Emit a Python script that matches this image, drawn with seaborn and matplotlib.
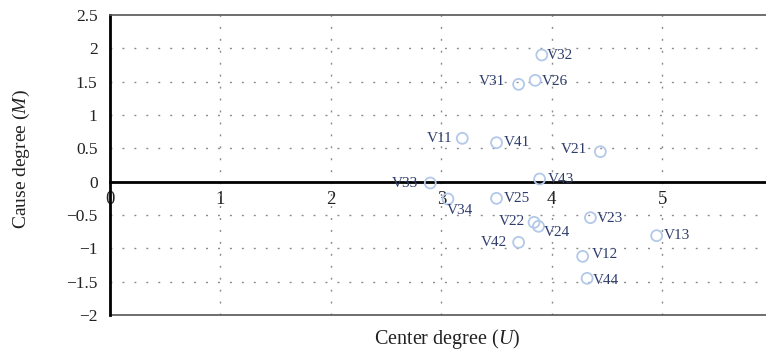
import matplotlib
matplotlib.use("Agg")
import matplotlib.pyplot as plt
import seaborn as sns
import pandas as pd

labels = ["V11", "V12", "V13", "V21", "V22", "V23", "V24", "V25", "V26",
          "V31", "V32", "V33", "V34", "V41", "V42", "V43", "V44"]
center_U = [3.19, 4.28, 4.95, 4.44, 3.84, 4.35, 3.88, 3.50, 3.85,
            3.70, 3.91, 2.90, 3.06, 3.50, 3.70, 3.89, 4.32]
cause_M = [0.65, -1.12, -0.81, 0.45, -0.61, -0.54, -0.67, -0.25, 1.52,
           1.46, 1.90, -0.02, -0.26, 0.585, -0.91, 0.04, -1.45]

x_ticks = [0, 1, 2, 3, 4, 5]
y_ticks = [-2, -1.5, -1, -0.5, 0, 0.5, 1, 1.5, 2, 2.5]

# label placement (pixel offsets, horizontal alignment)
label_layout = {
    "V32": (5, 0, "left"), "V31": (-14, 3, "right"), "V26": (7, -1, "left"),
    "V11": (-10, 0, "right"), "V41": (7, 0, "left"), "V21": (-13, 2, "right"),
    "V33": (-12, 0, "right"), "V43": (8, 0, "left"), "V34": (-1, -11, "left"),
    "V25": (7, 0, "left"), "V22": (-9, 1, "right"), "V24": (5, -6, "left"),
    "V42": (-12, 0, "right"), "V23": (6, -1, "left"), "V13": (7, 0, "left"),
    "V12": (9, 1.5, "left"), "V44": (6, -2, "left"),
}

df = pd.DataFrame({"label": labels, "U": center_U, "M": cause_M})

sns.set_theme(style="white")
plt.rcParams["font.family"] = ["Liberation Serif", "DejaVu Serif"]
plt.rcParams["mathtext.fontset"] = "custom"
plt.rcParams["mathtext.it"] = "Liberation Serif:italic"
plt.rcParams["mathtext.rm"] = "Liberation Serif"
plt.rcParams["axes.unicode_minus"] = True

fig = plt.figure(figsize=(7.66, 3.51), dpi=100)
ax = fig.add_axes([110 / 766, 1 - 315 / 351, (766 - 110) / 766, 300 / 351])

sns.scatterplot(data=df, x="U", y="M", ax=ax, s=62, marker="o",
                facecolor="none", edgecolor="#b3c9e9", linewidth=1.3, zorder=3)

for lab, u, m in zip(labels, center_U, cause_M):
    dx, dy, ha = label_layout[lab]
    ax.annotate(lab, (u, m), xytext=(dx, dy), textcoords="offset pixels",
                ha=ha, va="center", fontsize=11, color="#2f3d6c", zorder=4)

# spines first (set_position resets tick objects)
ax.spines["bottom"].set_position(("data", 0))
ax.spines["bottom"].set_color("black")
ax.spines["bottom"].set_linewidth(2)
ax.spines["left"].set_color("black")
ax.spines["left"].set_linewidth(2)
ax.spines["top"].set_color("#555555")
ax.spines["top"].set_linewidth(1.2)
ax.spines["right"].set_visible(False)
ax.plot([0, 1], [0, 0], transform=ax.transAxes, color="#555555",
        linewidth=1.2, clip_on=False, zorder=2)

ax.set_xlim(0, 5.94)
ax.set_ylim(-2, 2.5)
ax.set_xticks(x_ticks)
ax.set_yticks(y_ticks)
ax.set_xticklabels([f"{t:g}" for t in x_ticks], fontsize=13.5, color="#222222")
ax.set_yticklabels([f"{t:g}".replace("-", "\u2212") for t in y_ticks],
                   fontsize=12.5, color="#222222")
ax.tick_params(axis="x", length=0, pad=7)
ax.tick_params(axis="y", length=0, pad=9)

grid_style = dict(color="#8a8a8a", linewidth=1.0, linestyle=(0, (1.4, 7.2)), zorder=1)
for t in x_ticks[1:]:
    ax.axvline(t, **grid_style)
for t in y_ticks:
    if t not in (0, -2, 2.5):
        ax.axhline(t, **grid_style)

ax.set_xlabel("Center degree ($\\mathit{U}$)", fontsize=14.5, color="#222222")
ax.set_ylabel("Cause degree ($\\mathit{M}$)", fontsize=14, color="#222222")
ax.xaxis.set_label_coords(0.514, -0.04)
ax.yaxis.set_label_coords(-0.119, 0.52)

fig.savefig("out.png", dpi=100)
